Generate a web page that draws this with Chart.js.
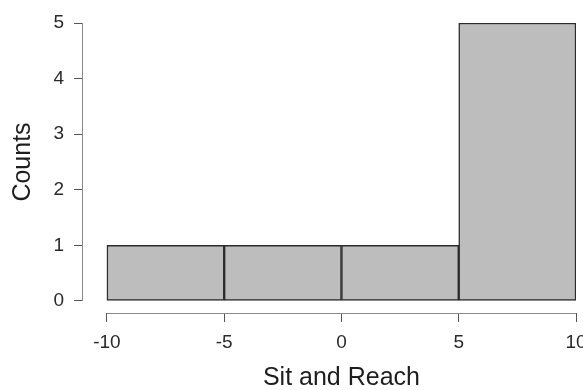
<!DOCTYPE html>
<html>
<head>
<meta charset="utf-8">
<script src="https://cdn.jsdelivr.net/npm/chart.js@4/dist/chart.umd.min.js"></script>
<style>
  html, body { margin: 0; padding: 0; background: #fff; overflow: hidden; }
  #wrap { width: 583px; height: 390px; overflow: hidden; }
</style>
</head>
<body>
<div id="wrap"><canvas id="histCanvas" width="600" height="390"></canvas></div>
<script>
// Histogram data
const binStarts = [-10, -5, 0, 5];
const binEnds = [-5, 0, 5, 10];
const counts = [1, 1, 1, 5];
const xTicks = [-10, -5, 0, 5, 10];
const yTicks = [0, 1, 2, 3, 4, 5];
const xTitle = 'Sit and Reach';
const yTitle = 'Counts';

const FONT = "'Liberation Sans', Arial, sans-serif";

// R-style detached axis lines (first to last tick) and axis titles centred on them
const axisDecor = {
  id: 'axisDecor',
  afterDraw(chart) {
    const { ctx, chartArea, scales } = chart;
    const yTop = scales.y.getPixelForValue(yTicks[yTicks.length - 1]);
    const yBot = scales.y.getPixelForValue(yTicks[0]);
    const xL = scales.x.getPixelForValue(xTicks[0]);
    const xR = scales.x.getPixelForValue(xTicks[xTicks.length - 1]);

    ctx.save();
    ctx.strokeStyle = '#8a8a8a';
    ctx.lineWidth = 1;
    ctx.beginPath();
    ctx.moveTo(chartArea.left - 0.5, yTop);
    ctx.lineTo(chartArea.left - 0.5, yBot);
    ctx.moveTo(xL, chartArea.bottom + 0.5);
    ctx.lineTo(xR, chartArea.bottom + 0.5);
    ctx.stroke();

    ctx.fillStyle = '#1e1e1e';
    ctx.font = '25px ' + FONT;
    ctx.textAlign = 'center';
    ctx.textBaseline = 'middle';
    ctx.fillText(xTitle, (xL + xR) / 2, 378);

    ctx.translate(23, (yTop + yBot) / 2);
    ctx.rotate(-Math.PI / 2);
    ctx.fillText(yTitle, 0, 0);
    ctx.restore();
  }
};

const ctx = document.getElementById('histCanvas').getContext('2d');
new Chart(ctx, {
  type: 'bar',
  data: {
    datasets: [{
      data: counts.map((c, i) => ({ x: (binStarts[i] + binEnds[i]) / 2, y: c })),
      backgroundColor: '#bdbdbd',
      borderColor: '#2b2b2b',
      borderWidth: 1.5,
      borderSkipped: false,
      barPercentage: 1,
      categoryPercentage: 1
    }]
  },
  options: {
    responsive: false,
    animation: false,
    layout: { padding: { top: 23, right: 24, left: 0, bottom: 0 } },
    plugins: {
      legend: { display: false },
      tooltip: { enabled: false }
    },
    scales: {
      x: {
        type: 'linear',
        offset: false,
        min: -11.02,
        max: 10,
        afterBuildTicks: s => { s.ticks = xTicks.map(v => ({ value: v })); },
        afterFit: s => { s.height = 77; },
        border: { display: false },
        grid: {
          offset: false,
          drawOnChartArea: false,
          drawTicks: true,
          tickLength: 9,
          tickColor: '#555'
        },
        ticks: {
          padding: 9,
          maxRotation: 0,
          autoSkip: false,
          color: '#2a2a2a',
          font: { size: 19, family: FONT }
        }
      },
      y: {
        min: -0.216,
        max: 5,
        afterBuildTicks: s => { s.ticks = yTicks.map(v => ({ value: v })); },
        afterFit: s => { s.width = 83; },
        border: { display: false },
        grid: {
          drawOnChartArea: false,
          drawTicks: true,
          tickLength: 9,
          tickColor: '#555'
        },
        ticks: {
          padding: 10,
          color: '#2a2a2a',
          font: { size: 19, family: FONT }
        }
      }
    }
  },
  plugins: [axisDecor]
});
</script>
</body>
</html>
